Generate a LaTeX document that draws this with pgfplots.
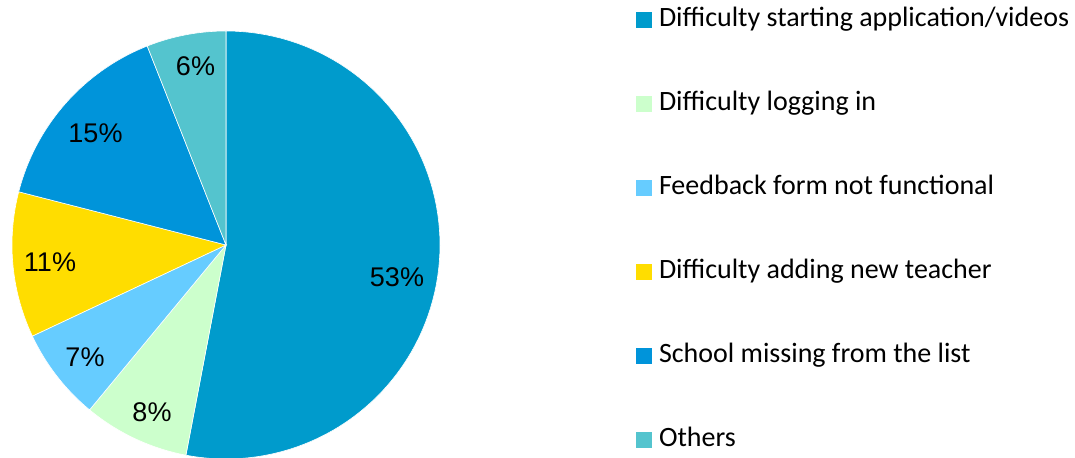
\documentclass[border=0pt]{standalone}
\usepackage{pgfplots}
\usepackage{pgfplotstable}
\pgfplotsset{compat=1.18}
\usepackage{fontspec}
\newfontfamily\legfont{Carlito}
\newfontfamily\labfont{Liberation Sans}
\definecolor{cA}{HTML}{009BCC}
\definecolor{cB}{HTML}{CCFFCC}
\definecolor{cC}{HTML}{66CCFF}
\definecolor{cD}{HTML}{FFDD00}
\definecolor{cE}{HTML}{0094DA}
\definecolor{cF}{HTML}{54C4CE}
\pgfplotstableread[col sep=comma]{
label,value,color,lx,ly
Difficulty starting application/videos,53,cA,397,181
Difficulty logging in,8,cB,152,46
Feedback form not functional,7,cC,85,101
Difficulty adding new teacher,11,cD,50,195.5
School missing from the list,15,cE,95.5,325
Others,6,cF,195.5,392
}\piedata
\begin{document}
\begin{tikzpicture}
\begin{axis}[x=0.5pt,y=0.5pt,xmin=0,xmax=1075,ymin=0,ymax=458,
  hide axis,clip=false,
  legend cell align=left,
  legend image code/.code={\fill[#1,draw=none] (0pt,-4pt) rectangle (8pt,4pt);},
  legend style={draw=none,fill=none,inner sep=0pt,outer sep=0pt,
    at={(0.59163,0.98253)},anchor=north west,
    font=\legfont\fontsize{14}{16}\selectfont,
    nodes={inner sep=0pt,text height=9.5pt,text depth=3pt},
    row sep=29.5pt,
    /tikz/every odd column/.append style={column sep=3.5pt}},
]
\def\cum{90}
\pgfplotsforeachungrouped \i in {0,...,5}{%
  \pgfplotstablegetelem{\i}{value}\of\piedata \let\val\pgfplotsretval
  \pgfplotstablegetelem{\i}{color}\of\piedata \let\col\pgfplotsretval
  \pgfplotstablegetelem{\i}{label}\of\piedata \let\lab\pgfplotsretval
  \pgfplotstablegetelem{\i}{lx}\of\piedata \let\lx\pgfplotsretval
  \pgfplotstablegetelem{\i}{ly}\of\piedata \let\ly\pgfplotsretval
  \pgfmathsetmacro\endang{\cum-3.6*\val}%
  \edef\cmd{\noexpand\addplot[fill=\col,draw=white,line width=0.3pt,domain=\endang:\cum,samples=90]
    ({226+214*cos(x)},{213+214*sin(x)}) -- (axis cs:226,213) -- cycle;
    \noexpand\addlegendentry{\lab}
    \noexpand\node[font=\noexpand\labfont\noexpand\fontsize{13.5}{16}\noexpand\selectfont,inner sep=0pt] at (axis cs:\lx,\ly) {\val\noexpand\%};}%
  \cmd
  \let\cum\endang
}
\end{axis}
\pgfresetboundingbox
\path (0,0) rectangle (537.5pt,229pt);
\end{tikzpicture}
\end{document}
